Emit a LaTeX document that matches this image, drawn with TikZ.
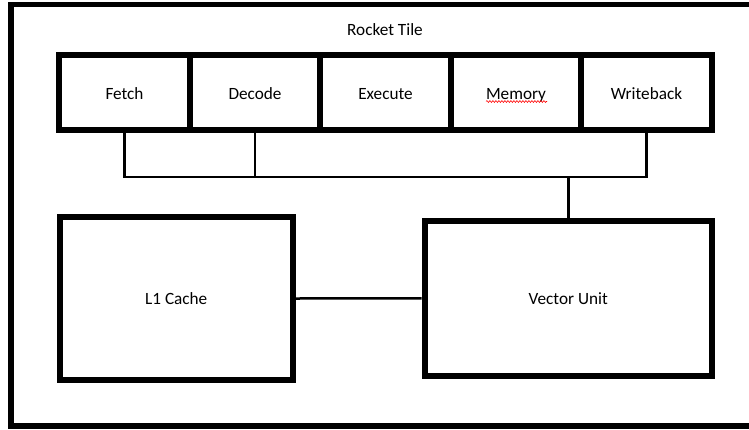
\documentclass[tikz,border=0pt]{standalone}
\usepackage{fontspec}
\setmainfont{Carlito}
\usetikzlibrary{positioning,decorations.pathmorphing}
\tikzset{
  stage/.style={draw, line width=6pt, minimum width=130.5pt, minimum height=75pt, inner sep=0pt, text height=15pt, text depth=1.5pt},
  unit/.style={draw, line width=6pt, inner sep=0pt},
  wire/.style={line width=2.5pt},
  squiggle/.style={red, line width=0.6pt, decorate, decoration={snake, amplitude=0.9pt, segment length=3pt}}
}
\begin{document}
\begin{tikzpicture}[x=1pt, y=-1pt, font=\fontsize{17.2}{20}\selectfont]
    \useasboundingbox (0,0) rectangle (749,429);
    \clip (0,0) rectangle (749,429);
    % Tile frame
    \draw[line width=5.5pt] (11,4.5) rectangle (760,426);
    \node (title) at (385,30) {Rocket Tile};
    % Pipeline stages
    \node[stage] (fetch) at (124.5,92.5) {Fetch};
    \node[stage] (decode) at (255,92.5) {Decode};
    \node[stage] (execute) at (385.5,92.5) {Execute};
    \node[stage] (memory) at (516,92.5) {Memory};
    \node[stage] (writeback) at (646.5,92.5) {Writeback};
    \draw[squiggle] ([xshift=-30pt,yshift=-9pt]memory.center) -- ([xshift=31pt,yshift=-9pt]memory.center);
    % Cache and vector unit
    \node[unit, minimum width=233.5pt, minimum height=163pt] (cache) at (176.25,298.5) {L1 Cache};
    \node[unit, minimum width=287.5pt, minimum height=155.5pt] (vector) at (568.25,298.25) {Vector Unit};
    % Bus
    \coordinate[below=44pt of fetch.south] (busl);
    \draw[wire] (fetch.south) -- (busl) -| (writeback.south);
    \draw[wire] (decode.south) -- (decode.south |- busl);
    \draw[wire] (vector.north) -- (vector.north |- busl);
    \draw[wire] (cache.east) -- (vector.west);
\end{tikzpicture}
\end{document}
